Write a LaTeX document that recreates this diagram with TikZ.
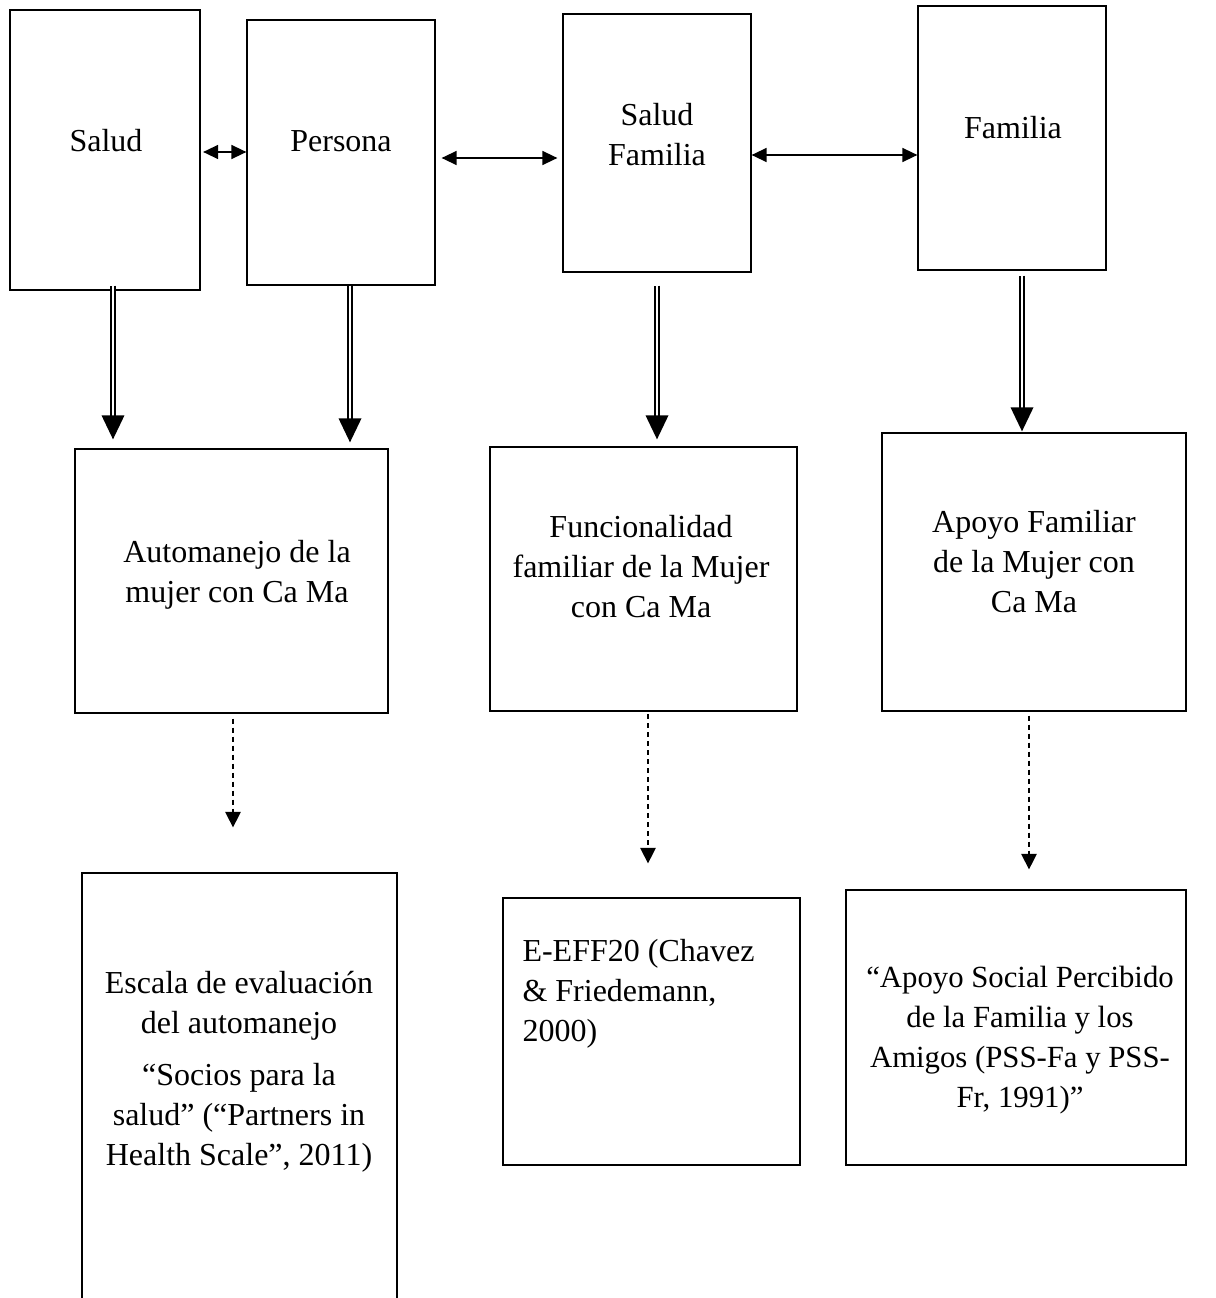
\documentclass[tikz,border=0pt]{standalone}
\usepackage{fontspec}
\setmainfont{Liberation Serif}
\usetikzlibrary{
  calc,
  arrows.meta, % for Triangle tips
  fit}
\tikzstyle{box} = [draw, line width=0.5pt, inner sep=0pt]
\tikzstyle{txt} = [align=center, inner sep=0pt, font=\fontsize{12.8}{16}\selectfont]
\tikzstyle{both} = [line width=0.6pt, {Triangle[length=6pt,width=5.6pt]}-{Triangle[length=6pt,width=5.6pt]}]
\tikzstyle{dbl} = [double, double distance=1pt, line width=0.75pt, -{Triangle[length=9.6pt,width=9pt]}]
\tikzstyle{dashlink} = [line width=0.5pt, dash pattern=on 2pt off 1.6pt, -{Triangle[length=6.2pt,width=6.2pt]}]

\begin{document}
\begin{tikzpicture}[x=0.4pt, y=-0.4pt]
\useasboundingbox (0,0) rectangle (1215,1298);

% top row
\node[box, fit={(10,10) (200,290)}] (salud) {};
\node[box, fit={(247,20) (435,285)}] (persona) {};
\node[box, fit={(563,14) (751,272)}] (saludfam) {};
\node[box, fit={(918,6) (1106,270)}] (familia) {};
\node[txt] (salud-t) at (106,141) {Salud};
\node[txt] (persona-t) at (341,141) {Persona};
\node[txt] (saludfam-t) at (657,135) {Salud\\Familia};
\node[txt] (familia-t) at (1013,128) {Familia};

% middle row
\node[box, fit={(75,449) (388,713)}] (autom) {};
\node[box, fit={(490,447) (797,711)}] (funcion) {};
\node[box, fit={(882,433) (1186,711)}] (apoyo) {};
\node[txt] (autom-t) at (237,575) {Automanejo de la\\mujer con Ca Ma};
\node[txt] (funcion-t) at (641,567) {Funcionalidad\\familiar de la Mujer\\con Ca Ma};
\node[txt] (apoyo-t) at (1034,562) {Apoyo Familiar\\de la Mujer con\\Ca Ma};

% bottom row
\node[box, fit={(82,873) (397,1340)}] (escala) {};
\node[box, fit={(503,898) (800,1165)}] (eeff) {};
\node[box, fit={(846,890) (1186,1165)}] (pss) {};
\node[txt] (escala-t) at (239,1072) {Escala de evaluación\\del automanejo\\[5pt]“Socios para la\\salud” (“Partners in\\Health Scale”, 2011)};
\node[txt, align=left, anchor=west] (eeff-t) at (522,994) {E-EFF20 (Chavez\\\& Friedemann,\\2000)};
\node[txt, font=\fontsize{12.3}{16}\selectfont] (pss-t) at (1020,1040) {“Apoyo Social Percibido\\de la Familia y los\\Amigos (PSS-Fa y PSS-\\Fr, 1991)”};

% horizontal links
\coordinate (h1) at (0,152);
\coordinate (h2) at (0,158);
\coordinate (h3) at (0,155);
\draw[both, shorten <=1pt] (salud.east |- h1) -- (persona.west |- h1);
\draw[both, shorten <=2.4pt, shorten >=2pt] (persona.east |- h2) -- (saludfam.west |- h2);
\draw[both] (saludfam.east |- h3) -- (familia.west |- h3);

% double arrows
\coordinate (v1) at (113,0);
\coordinate (v2) at (350,0);
\coordinate (v3) at (657,0);
\coordinate (v4) at (1022,0);
\draw[dbl, shorten <=-2pt, shorten >=3.6pt] (salud.south -| v1) -- (autom.north -| v1);
\draw[dbl, shorten >=2.4pt] (persona.south -| v2) -- (autom.north -| v2);
\draw[dbl, shorten <=5.2pt, shorten >=2.8pt] (saludfam.south -| v3) -- (funcion.north -| v3);
\draw[dbl, shorten <=2pt, shorten >=0.4pt] (familia.south -| v4) -- (apoyo.north -| v4);

% dashed arrows
\coordinate (w1) at (233,0);
\coordinate (w2) at (648,0);
\coordinate (w3) at (1029,0);
\draw[dashlink, shorten <=2pt, shorten >=18pt] (autom.south -| w1) -- (escala.north -| w1);
\draw[dashlink, shorten <=1pt, shorten >=13.6pt] (funcion.south -| w2) -- (eeff.north -| w2);
\draw[dashlink, shorten <=1.6pt, shorten >=8pt] (apoyo.south -| w3) -- (pss.north -| w3);

\end{tikzpicture}
\end{document}
